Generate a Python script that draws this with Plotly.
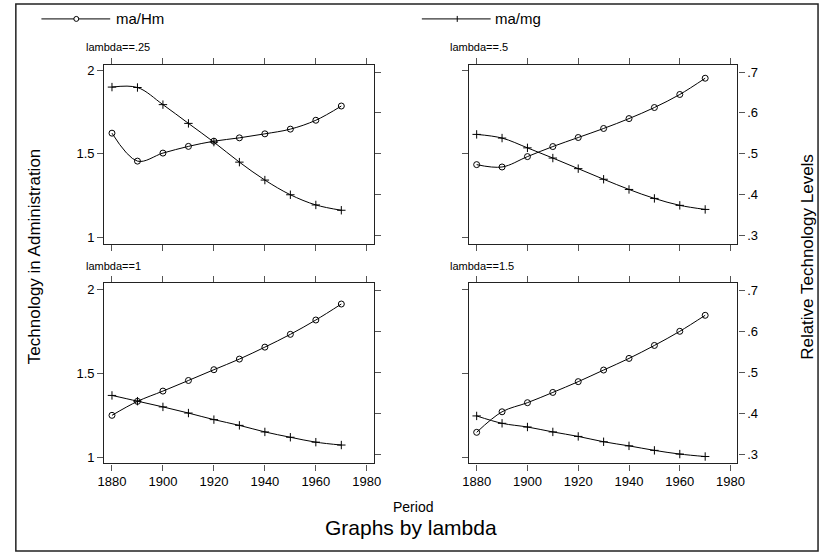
import plotly.graph_objects as go

# ---- data -------------------------------------------------------------
years = [1880, 1890, 1900, 1910, 1920, 1930, 1940, 1950, 1960, 1970]
lambdas = [".25", ".5", "1", "1.5"]

# ma/Hm  (left axis: Technology in Administration)
hm_025 = [1.624, 1.457, 1.505, 1.545, 1.576, 1.596, 1.620, 1.648, 1.701, 1.786]
hm_05 = [1.436, 1.422, 1.484, 1.544, 1.598, 1.652, 1.711, 1.777, 1.855, 1.952]
hm_1 = [1.250, 1.333, 1.394, 1.457, 1.521, 1.584, 1.655, 1.731, 1.816, 1.911]
hm_15 = [1.149, 1.271, 1.325, 1.386, 1.450, 1.519, 1.588, 1.665, 1.749, 1.844]

# ma/mg  (right axis: Relative Technology Levels)
mg_025 = [0.663, 0.662, 0.620, 0.574, 0.528, 0.479, 0.435, 0.399, 0.374, 0.361]
mg_05 = [0.547, 0.538, 0.514, 0.489, 0.463, 0.437, 0.412, 0.390, 0.373, 0.363]
mg_1 = [0.445, 0.431, 0.417, 0.402, 0.386, 0.372, 0.356, 0.343, 0.331, 0.324]
mg_15 = [0.395, 0.377, 0.368, 0.356, 0.345, 0.332, 0.322, 0.311, 0.302, 0.296]

x_ticks = [1880, 1900, 1920, 1940, 1960, 1980]
left_ticks = [1, 1.5, 2]
left_labels = ["1", "1.5", "2"]
right_ticks = [0.3, 0.4, 0.5, 0.6, 0.7]
right_labels = [".3", ".4", ".5", ".6", ".7"]

hm_series = [hm_025, hm_05, hm_1, hm_15]
mg_series = [mg_025, mg_05, mg_1, mg_15]

# ---- layout helpers ---------------------------------------------------
W, H = 827, 556
FONT = "Liberation Sans, Arial, sans-serif"
LINE = "#222222"
TICK = "#555555"


def px(x):
    return x / W


def py(y):
    return 1 - y / H


def label(x, y, text, size, xanchor="center", angle=0):
    return dict(x=px(x), y=py(y), xref="paper", yref="paper", text=text,
                showarrow=False, xanchor=xanchor, yanchor="middle",
                textangle=angle, borderpad=0,
                font=dict(size=size, family=FONT, color="black"))


# panel boxes in pixels: (left, right, top, bottom)
boxes = [
    (99, 373, 63, 243),
    (470, 743, 63, 243),
    (99, 373, 283, 464),
    (470, 743, 283, 464),
]

fig = go.Figure()
layout = dict(
    width=W,
    height=H,
    autosize=False,
    margin=dict(l=0, r=0, t=0, b=0),
    paper_bgcolor="white",
    plot_bgcolor="white",
    showlegend=False,
    font=dict(family=FONT, color="black", size=13),
)

annotations = []
for i, (l, r, t, b) in enumerate(boxes):
    n = i + 1
    xa = "x" if n == 1 else f"x{n}"
    ya_left = f"y{2 * n - 1}" if n > 1 else "y"
    ya_right = f"y{2 * n}"
    left_col = i % 2 == 0
    bottom_row = i >= 2

    common = dict(
        ticks="outside",
        ticklen=6,
        tickcolor=TICK,
        tickwidth=1,
        showline=True,
        linecolor=LINE,
        linewidth=1.3,
        showgrid=False,
        zeroline=False,
        tickfont=dict(size=13, family=FONT, color="black"),
    )

    layout["xaxis" if n == 1 else f"xaxis{n}"] = dict(
        domain=[px(l), px(r)],
        anchor=ya_left,
        range=[1877.0, 1982.7],
        tickvals=x_ticks,
        ticktext=[str(v) for v in x_ticks],
        showticklabels=bottom_row,
        mirror="ticks",
        **common,
    )
    layout["yaxis" if n == 1 else f"yaxis{2 * n - 1}"] = dict(
        domain=[py(b), py(t)],
        anchor=xa,
        range=[0.964, 2.033],
        tickvals=left_ticks,
        ticktext=left_labels,
        showticklabels=left_col,
        **common,
    )
    layout[f"yaxis{2 * n}"] = dict(
        domain=[py(b), py(t)],
        anchor=xa,
        overlaying=ya_left,
        side="right",
        range=[0.279, 0.718],
        tickvals=right_ticks,
        ticktext=right_labels,
        showticklabels=not left_col,
        **common,
    )

    fig.add_trace(go.Scatter(
        x=years, y=hm_series[i], xaxis=xa, yaxis=ya_left,
        mode="lines+markers", name="ma/Hm",
        line=dict(color="black", width=1, shape="spline", smoothing=1),
        marker=dict(symbol="circle-open", size=6, color="black",
                    line=dict(width=1, color="black")),
    ))
    fig.add_trace(go.Scatter(
        x=years, y=mg_series[i], xaxis=xa, yaxis=ya_right,
        mode="lines+markers", name="ma/mg",
        line=dict(color="black", width=1, shape="spline", smoothing=1),
        marker=dict(symbol="cross-thin", size=6, color="black",
                    line=dict(width=1, color="black")),
    ))

    # panel caption
    annotations.append(label(l - 20, t - 18, f"lambda=={lambdas[i]}", 11,
                             xanchor="left"))

# shared titles and key labels
annotations += [
    label(28, 256, "Technology in Administration", 17, angle=-90),
    label(814, 256, "Relative Technology Levels", 17, angle=-90),
    label(413, 508, "Period", 14),
    label(411, 528, "Graphs by lambda", 21),
    label(110, 17, "ma/Hm", 15, xanchor="left"),
    label(495, 17, "ma/mg", 15, xanchor="left"),
]

# key symbols and outer frame
shapes = [
    dict(type="rect", xref="paper", yref="paper",
         x0=px(9), x1=px(825), y0=py(552), y1=py(2),
         line=dict(color=LINE, width=1.5)),
    dict(type="line", xref="paper", yref="paper",
         x0=px(35), x1=px(105), y0=py(17), y1=py(17),
         line=dict(color="black", width=1)),
    dict(type="circle", xref="paper", yref="paper",
         x0=px(68), x1=px(73), y0=py(19.5), y1=py(14.5),
         fillcolor="white", line=dict(color="black", width=1)),
    dict(type="line", xref="paper", yref="paper",
         x0=px(422), x1=px(492), y0=py(17), y1=py(17),
         line=dict(color="black", width=1)),
    dict(type="line", xref="paper", yref="paper",
         x0=px(458), x1=px(458), y0=py(14), y1=py(20),
         line=dict(color="black", width=1)),
]

layout["annotations"] = annotations
layout["shapes"] = shapes
fig.update_layout(**layout)

fig.write_html("out.html")
